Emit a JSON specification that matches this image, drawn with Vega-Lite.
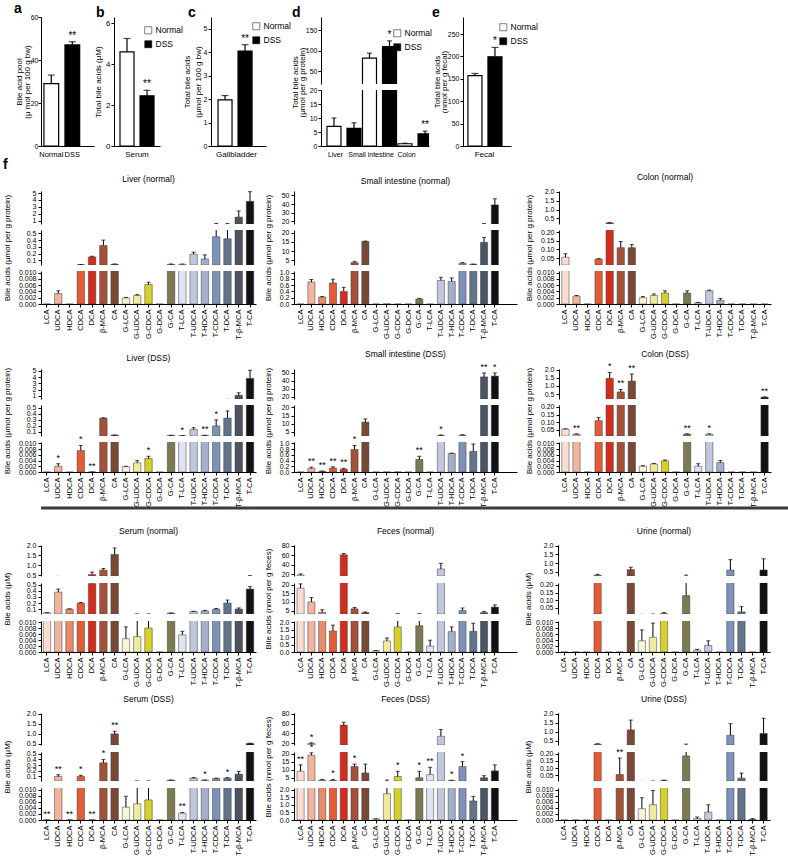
{
"$schema":"https://vega.github.io/schema/vega-lite/v6.json",
"padding":{"left":2,"top":2,"right":0,"bottom":0},
"config":{
 "font":"Liberation Sans",
 "view":{"stroke":null},
 "axis":{"grid":false,"domainColor":"#000","tickColor":"#000","labelColor":"#000","titleColor":"#000","labelFontSize":7.5,"titleFontSize":8,"titleFontWeight":"normal","tickSize":3,"labelPadding":2,"labelOverlap":false,"labelFlush":false,"titlePadding":4,"titleLineHeight":9},
 "axisY":{"labelFontSize":7},
 "range":{"category":["#7a4936","#e25d35","#d42c1d","#7b7a52","#d6cf2c","#a9a55a","#f7f5d5","#efeb9c","#e98a6a","#f9ddd0","#111111","#7d92b8","#62738c","#a2b0cd","#dfe4f0","#bfc8dd","#4b5462","#f2b49c","#a5513a"]},
 "bar":{"stroke":"#3a3a3a","strokeWidth":0.5},
 "rule":{"color":"#000"},
 "tick":{"color":"#000","thickness":1},
 "text":{"color":"#000","fontSize":9},
 "title":{"fontSize":8.5,"fontWeight":"normal","color":"#000","offset":6,"frame":"group"},
 "legend":{"labelFontSize":8.5}
},
"datasets":{
"t":[
{"p":"a","c":"Normal","g":"Normal","v":29,"h":33},
{"p":"a","c":"DSS","g":"DSS","v":47,"h":48.5,"s":"**"},
{"p":"b","c":"Serum","g":"Normal","v":4.6,"h":5.25},
{"p":"b","c":"Serum","g":"DSS","v":2.45,"h":2.72,"s":"**"},
{"p":"c","c":"Gallbladder","g":"Normal","v":1.97,"h":2.15},
{"p":"c","c":"Gallbladder","g":"DSS","v":4.05,"h":4.32,"s":"**"},
{"p":"d","c":"Liver","g":"Normal","v":7,"h":10},
{"p":"d","c":"Liver","g":"DSS","v":6.3,"h":8.3},
{"p":"d","c":"Small intestine","g":"Normal","v":82,"h":94},
{"p":"d","c":"Small intestine","g":"DSS","v":110,"h":124,"s":"*"},
{"p":"d","c":"Colon","g":"Normal","v":0.8,"h":1},
{"p":"d","c":"Colon","g":"DSS","v":4.3,"h":5.3,"s":"**"},
{"p":"e","c":"Fecal","g":"Normal","v":157,"h":162},
{"p":"e","c":"Fecal","g":"DSS","v":199,"h":220,"s":"*"}
],
"f":[
{"p":"LN","a":"LCA","v":0},{"p":"LN","a":"UDCA","v":0.0033,"h":0.0042},{"p":"LN","a":"HDCA","v":0},{"p":"LN","a":"CDCA","v":0.035,"h":0.037},{"p":"LN","a":"DCA","v":0.15,"h":0.16},{"p":"LN","a":"β-MCA","v":0.32,"h":0.4},{"p":"LN","a":"CA","v":0.04,"h":0.045},{"p":"LN","a":"G-LCA","v":0.0019,"h":0.0021},{"p":"LN","a":"G-UDCA","v":0.0027,"h":0.003},{"p":"LN","a":"G-CDCA","v":0.0062,"h":0.0069},{"p":"LN","a":"G-DCA","v":0},{"p":"LN","a":"G-CA","v":0.04,"h":0.044},{"p":"LN","a":"T-LCA","v":0.04,"h":0.044},{"p":"LN","a":"T-UDCA","v":0.19,"h":0.22},{"p":"LN","a":"T-HDCA","v":0.12,"h":0.18},{"p":"LN","a":"T-CDCA","v":0.45,"h":0.58},{"p":"LN","a":"T-DCA","v":0.42,"h":0.58},{"p":"LN","a":"T-β-MCA","v":1.5,"h":2.4},{"p":"LN","a":"T-CA","v":3.8,"h":5.2},
{"p":"LD","a":"LCA","v":0},{"p":"LD","a":"UDCA","v":0.002,"h":0.0029,"s":"*"},{"p":"LD","a":"HDCA","v":0},{"p":"LD","a":"CDCA","v":0.0075,"h":0.0093,"s":"*"},{"p":"LD","a":"DCA","v":0,"h":0,"s":"**"},{"p":"LD","a":"β-MCA","v":0.33,"h":0.335},{"p":"LD","a":"CA","v":0.045,"h":0.047},{"p":"LD","a":"G-LCA","v":0.0019,"h":0.002},{"p":"LD","a":"G-UDCA","v":0.0032,"h":0.004},{"p":"LD","a":"G-CDCA","v":0.0047,"h":0.0055,"s":"*"},{"p":"LD","a":"G-DCA","v":0},{"p":"LD","a":"G-CA","v":0.04,"h":0.042},{"p":"LD","a":"T-LCA","v":0.034,"h":0.036,"s":"*"},{"p":"LD","a":"T-UDCA","v":0.14,"h":0.17},{"p":"LD","a":"T-HDCA","v":0.04,"h":0.042,"s":"**"},{"p":"LD","a":"T-CDCA","v":0.2,"h":0.3,"s":"*"},{"p":"LD","a":"T-DCA","v":0.33,"h":0.45},{"p":"LD","a":"T-β-MCA","v":1.1,"h":1.5},{"p":"LD","a":"T-CA","v":3.8,"h":5.1},
{"p":"SN","a":"LCA","v":0},{"p":"SN","a":"UDCA","v":0.7,"h":0.78},{"p":"SN","a":"HDCA","v":0.22,"h":0.24},{"p":"SN","a":"CDCA","v":0.67,"h":0.79},{"p":"SN","a":"DCA","v":0.4,"h":0.53},{"p":"SN","a":"β-MCA","v":3.8,"h":4.5},{"p":"SN","a":"CA","v":15.3,"h":15.5},{"p":"SN","a":"G-LCA","v":0},{"p":"SN","a":"G-UDCA","v":0.01},{"p":"SN","a":"G-CDCA","v":0},{"p":"SN","a":"G-DCA","v":0},{"p":"SN","a":"G-CA","v":0.16,"h":0.18},{"p":"SN","a":"T-LCA","v":0},{"p":"SN","a":"T-UDCA","v":0.75,"h":0.85},{"p":"SN","a":"T-HDCA","v":0.72,"h":0.83},{"p":"SN","a":"T-CDCA","v":3.4,"h":3.8},{"p":"SN","a":"T-DCA","v":2.9,"h":3},{"p":"SN","a":"T-β-MCA","v":14.8,"h":17.5},{"p":"SN","a":"T-CA","v":39,"h":46},
{"p":"SD","a":"LCA","v":0},{"p":"SD","a":"UDCA","v":0.13,"h":0.17,"s":"**"},{"p":"SD","a":"HDCA","v":0.03,"h":0.03,"s":"**"},{"p":"SD","a":"CDCA","v":0.14,"h":0.18,"s":"**"},{"p":"SD","a":"DCA","v":0.1,"h":0.13,"s":"**"},{"p":"SD","a":"β-MCA","v":0.79,"h":0.93,"s":"*"},{"p":"SD","a":"CA","v":11,"h":13},{"p":"SD","a":"G-LCA","v":0},{"p":"SD","a":"G-UDCA","v":0.005},{"p":"SD","a":"G-CDCA","v":0.005},{"p":"SD","a":"G-DCA","v":0},{"p":"SD","a":"G-CA","v":0.44,"h":0.55,"s":"**"},{"p":"SD","a":"T-LCA","v":0},{"p":"SD","a":"T-UDCA","v":2.8,"h":3.2,"s":"*"},{"p":"SD","a":"T-HDCA","v":0.65,"h":0.66},{"p":"SD","a":"T-CDCA","v":3,"h":3.3},{"p":"SD","a":"T-DCA","v":0.72,"h":0.98},{"p":"SD","a":"T-β-MCA","v":45,"h":50,"s":"**"},{"p":"SD","a":"T-CA","v":46,"h":50,"s":"*"},
{"p":"CN","a":"LCA","v":0.055,"h":0.075},{"p":"CN","a":"UDCA","v":0.0025,"h":0.0027},{"p":"CN","a":"HDCA","v":0},{"p":"CN","a":"CDCA","v":0.044,"h":0.047},{"p":"CN","a":"DCA","v":0.25,"h":0.27},{"p":"CN","a":"β-MCA","v":0.11,"h":0.145},{"p":"CN","a":"CA","v":0.11,"h":0.128},{"p":"CN","a":"G-LCA","v":0.002,"h":0.0024},{"p":"CN","a":"G-UDCA","v":0.0027,"h":0.0032},{"p":"CN","a":"G-CDCA","v":0.0035,"h":0.0042},{"p":"CN","a":"G-DCA","v":0},{"p":"CN","a":"G-CA","v":0.0035,"h":0.0042},{"p":"CN","a":"T-LCA","v":0.0004,"h":0.0005},{"p":"CN","a":"T-UDCA","v":0.0042,"h":0.0044},{"p":"CN","a":"T-HDCA","v":0.0012,"h":0.0018},{"p":"CN","a":"T-CDCA","v":0},{"p":"CN","a":"T-DCA","v":0},{"p":"CN","a":"T-β-MCA","v":0},{"p":"CN","a":"T-CA","v":0},
{"p":"CD","a":"LCA","v":0.055,"h":0.057},{"p":"CD","a":"UDCA","v":0.022,"h":0.024,"s":"**"},{"p":"CD","a":"HDCA","v":0},{"p":"CD","a":"CDCA","v":0.11,"h":0.13},{"p":"CD","a":"DCA","v":1.47,"h":1.84,"s":"*"},{"p":"CD","a":"β-MCA","v":0.63,"h":0.78,"s":"**"},{"p":"CD","a":"CA","v":1.3,"h":1.74,"s":"**"},{"p":"CD","a":"G-LCA","v":0.002,"h":0.0022},{"p":"CD","a":"G-UDCA","v":0.0028,"h":0.003},{"p":"CD","a":"G-CDCA","v":0.0039,"h":0.0042},{"p":"CD","a":"G-DCA","v":0},{"p":"CD","a":"G-CA","v":0.022,"h":0.024,"s":"**"},{"p":"CD","a":"T-LCA","v":0.002,"h":0.0029},{"p":"CD","a":"T-UDCA","v":0.022,"h":0.024,"s":"*"},{"p":"CD","a":"T-HDCA","v":0.0033,"h":0.004},{"p":"CD","a":"T-CDCA","v":0},{"p":"CD","a":"T-DCA","v":0},{"p":"CD","a":"T-β-MCA","v":0},{"p":"CD","a":"T-CA","v":0.3,"h":0.32,"s":"**"},
{"p":"RN","a":"LCA","v":0.04,"h":0.045},{"p":"RN","a":"UDCA","v":0.38,"h":0.43},{"p":"RN","a":"HDCA","v":0.1,"h":0.105},{"p":"RN","a":"CDCA","v":0.2,"h":0.21},{"p":"RN","a":"DCA","v":0.52,"h":0.65},{"p":"RN","a":"β-MCA","v":0.75,"h":0.83},{"p":"RN","a":"CA","v":1.55,"h":1.88},{"p":"RN","a":"G-LCA","v":0.0045,"h":0.0085},{"p":"RN","a":"G-UDCA","v":0.0052,"h":0.022},{"p":"RN","a":"G-CDCA","v":0.0081,"h":0.022},{"p":"RN","a":"G-DCA","v":0},{"p":"RN","a":"G-CA","v":0.035,"h":0.037},{"p":"RN","a":"T-LCA","v":0.0058,"h":0.007},{"p":"RN","a":"T-UDCA","v":0.06,"h":0.065},{"p":"RN","a":"T-HDCA","v":0.07,"h":0.08},{"p":"RN","a":"T-CDCA","v":0.1,"h":0.11},{"p":"RN","a":"T-DCA","v":0.2,"h":0.25},{"p":"RN","a":"T-β-MCA","v":0.1,"h":0.12},{"p":"RN","a":"T-CA","v":0.43,"h":0.47},
{"p":"RD","a":"LCA","v":0,"h":0,"s":"**"},{"p":"RD","a":"UDCA","v":0.1,"h":0.13,"s":"**"},{"p":"RD","a":"HDCA","v":0,"h":0,"s":"**"},{"p":"RD","a":"CDCA","v":0.1,"h":0.12,"s":"*"},{"p":"RD","a":"DCA","v":0,"h":0,"s":"**"},{"p":"RD","a":"β-MCA","v":0.34,"h":0.4,"s":"*"},{"p":"RD","a":"CA","v":1,"h":1.13,"s":"**"},{"p":"RD","a":"G-LCA","v":0.0042,"h":0.0078},{"p":"RD","a":"G-UDCA","v":0.0053,"h":0.022},{"p":"RD","a":"G-CDCA","v":0.0066,"h":0.022},{"p":"RD","a":"G-DCA","v":0},{"p":"RD","a":"G-CA","v":0.035,"h":0.037},{"p":"RD","a":"T-LCA","v":0.0022,"h":0.0025,"s":"**"},{"p":"RD","a":"T-UDCA","v":0.07,"h":0.08},{"p":"RD","a":"T-HDCA","v":0.035,"h":0.038,"s":"*"},{"p":"RD","a":"T-CDCA","v":0.065,"h":0.07},{"p":"RD","a":"T-DCA","v":0.07,"h":0.08,"s":"*"},{"p":"RD","a":"T-β-MCA","v":0.14,"h":0.19},{"p":"RD","a":"T-CA","v":0.53,"h":0.54},
{"p":"FN","a":"LCA","v":18,"h":20.5},{"p":"FN","a":"UDCA","v":10,"h":12.5},{"p":"FN","a":"HDCA","v":4,"h":5.5},{"p":"FN","a":"CDCA","v":1.42,"h":1.82},{"p":"FN","a":"DCA","v":61,"h":64},{"p":"FN","a":"β-MCA","v":6,"h":6.8},{"p":"FN","a":"CA","v":3.8,"h":4.2},{"p":"FN","a":"G-LCA","v":0.08,"h":0.1},{"p":"FN","a":"G-UDCA","v":0.75,"h":0.95},{"p":"FN","a":"G-CDCA","v":1.7,"h":3.2},{"p":"FN","a":"G-DCA","v":0},{"p":"FN","a":"G-CA","v":1.78,"h":3.2},{"p":"FN","a":"T-LCA","v":0.4,"h":0.8},{"p":"FN","a":"T-UDCA","v":31,"h":43},{"p":"FN","a":"T-HDCA","v":1.38,"h":1.7},{"p":"FN","a":"T-CDCA","v":5,"h":6.5},{"p":"FN","a":"T-DCA","v":1.4,"h":1.95},{"p":"FN","a":"T-β-MCA","v":3.8,"h":4.5},{"p":"FN","a":"T-CA","v":7,"h":8.3},
{"p":"FD","a":"LCA","v":9,"h":13,"s":"**"},{"p":"FD","a":"UDCA","v":19,"h":20.5,"s":"*"},{"p":"FD","a":"HDCA","v":3.5,"h":4},{"p":"FD","a":"CDCA","v":3.3,"h":4,"s":"*"},{"p":"FD","a":"DCA","v":57,"h":63},{"p":"FD","a":"β-MCA","v":12,"h":13.5,"s":"*"},{"p":"FD","a":"CA","v":8,"h":13.5},{"p":"FD","a":"G-LCA","v":0.07,"h":0.08},{"p":"FD","a":"G-UDCA","v":1.72,"h":3.6},{"p":"FD","a":"G-CDCA","v":5.8,"h":9,"s":"*"},{"p":"FD","a":"G-DCA","v":0},{"p":"FD","a":"G-CA","v":5,"h":9,"s":"*"},{"p":"FD","a":"T-LCA","v":7,"h":11.5,"s":"**"},{"p":"FD","a":"T-UDCA","v":34,"h":48},{"p":"FD","a":"T-HDCA","v":3.2,"h":3.5,"s":"*"},{"p":"FD","a":"T-CDCA","v":12,"h":15,"s":"*"},{"p":"FD","a":"T-DCA","v":1.25,"h":1.55},{"p":"FD","a":"T-β-MCA","v":5,"h":6.3},{"p":"FD","a":"T-CA","v":9.3,"h":13},
{"p":"UN","a":"LCA","v":0},{"p":"UN","a":"UDCA","v":0},{"p":"UN","a":"HDCA","v":0},{"p":"UN","a":"CDCA","v":0.3,"h":0.35},{"p":"UN","a":"DCA","v":0},{"p":"UN","a":"β-MCA","v":0},{"p":"UN","a":"CA","v":0.62,"h":0.76},{"p":"UN","a":"G-LCA","v":0.0038,"h":0.0075},{"p":"UN","a":"G-UDCA","v":0.005,"h":0.0098},{"p":"UN","a":"G-CDCA","v":0.014,"h":0.019},{"p":"UN","a":"G-DCA","v":0},{"p":"UN","a":"G-CA","v":0.13,"h":0.3},{"p":"UN","a":"T-LCA","v":0.0006,"h":0.0009},{"p":"UN","a":"T-UDCA","v":0.0022,"h":0.0038},{"p":"UN","a":"T-HDCA","v":0},{"p":"UN","a":"T-CDCA","v":0.6,"h":1.2},{"p":"UN","a":"T-DCA","v":0.024,"h":0.058},{"p":"UN","a":"T-β-MCA","v":0},{"p":"UN","a":"T-CA","v":0.6,"h":1.25},
{"p":"UD","a":"LCA","v":0},{"p":"UD","a":"UDCA","v":0},{"p":"UD","a":"HDCA","v":0},{"p":"UD","a":"CDCA","v":0.3,"h":0.32},{"p":"UD","a":"DCA","v":0},{"p":"UD","a":"β-MCA","v":0.055,"h":0.17,"s":"**"},{"p":"UD","a":"CA","v":1.1,"h":1.65},{"p":"UD","a":"G-LCA","v":0.0037,"h":0.0073},{"p":"UD","a":"G-UDCA","v":0.005,"h":0.0097},{"p":"UD","a":"G-CDCA","v":0.013,"h":0.016},{"p":"UD","a":"G-DCA","v":0},{"p":"UD","a":"G-CA","v":0.185,"h":0.3},{"p":"UD","a":"T-LCA","v":0.0005,"h":0.001},{"p":"UD","a":"T-UDCA","v":0.0026,"h":0.005},{"p":"UD","a":"T-HDCA","v":0},{"p":"UD","a":"T-CDCA","v":0.8,"h":1.45},{"p":"UD","a":"T-DCA","v":0.03,"h":0.065},{"p":"UD","a":"T-β-MCA","v":0.0002,"h":0.0005},{"p":"UD","a":"T-CA","v":0.9,"h":1.75}
]
},
"data":{"name":"f"},
"spacing":0,
"bounds":"full",
"vconcat":[
{"data":{"name":"t"},"spacing":0,"resolve":{"scale":{"fill":"independent"},"legend":{"fill":"independent"}},
 "hconcat":[
 {"transform":[{"filter":"datum.p=='a'"}],"title":{"text":"a","anchor":"start","frame":"group","dx":-27,"fontSize":14,"fontWeight":"bold","baseline":"bottom","offset":-17},
  "width":53,"height":129,"resolve":{"axis":{"y":"independent"}},
  "encoding":{"x":{"field":"g","type":"nominal","sort":["Normal","DSS"],"scale":{"paddingInner":0.3,"paddingOuter":0.41,"align":0.17},"axis":{"title":null,"labelAngle":0,"tickSize":0,"labelPadding":4,"labelFontSize":7.5}},
   "y":{"field":"v","type":"quantitative","scale":{"domain":[0,60],"nice":false},"axis":{"orient":"left","values":[0,20,40,60],"labelFontSize":7,"labelPadding":0,"title":"(μ mol per 100 g bw)","titleX":-10}}},
  "layer":[
   {"mark":{"type":"bar","stroke":"#000","strokeWidth":1.2},"encoding":{"fill":{"field":"g","type":"nominal","scale":{"domain":["Normal","DSS"],"range":["#ffffff","#000000"]},"legend":null}}},
   {"mark":{"type":"rule","strokeWidth":1.2},"encoding":{"y":{"field":"v","type":"quantitative","axis":null},"y2":{"field":"h"}}},
   {"mark":{"type":"tick","size":7,"thickness":1.2},"encoding":{"y":{"field":"h","type":"quantitative","axis":null}}},
   {"transform":[{"filter":"datum.s"}],"mark":{"type":"text","baseline":"bottom","dy":-1,"fontSize":10},"encoding":{"y":{"field":"h","type":"quantitative","axis":{"orient":"left","labels":false,"ticks":false,"domain":false,"title":"Bile acid pool","titleX":-18}},"text":{"field":"s"}}}
  ]},
 {"transform":[{"filter":"datum.p=='b'"}],"title":{"text":"b","anchor":"start","frame":"group","dx":-18,"fontSize":14,"fontWeight":"bold","baseline":"bottom","offset":-17},
  "width":46,"height":129,
  "encoding":{"x":{"field":"c","type":"nominal","scale":{"paddingInner":0,"paddingOuter":0.176},"axis":{"title":null,"labelAngle":0,"tickSize":0,"labelPadding":4,"labelFontSize":8}},
   "xOffset":{"field":"g","type":"nominal","sort":["Normal","DSS"],"scale":{"paddingInner":0.3,"paddingOuter":0}},
   "y":{"field":"v","type":"quantitative","scale":{"domain":[0,6.3],"nice":false},"axis":{"values":[0,2,4,6],"labelFontSize":8,"labelPadding":1,"title":"Total bile acids (μM)","titleX":-12}}},
  "layer":[
   {"mark":{"type":"bar","stroke":"#000","strokeWidth":1.2},"encoding":{"fill":{"field":"g","type":"nominal","scale":{"domain":["Normal","DSS"],"range":["#ffffff","#000000"]},"legend":{"orient":"none","legendX":30,"legendY":9,"title":null,"symbolType":"square","symbolSize":50,"symbolStrokeColor":"#000","symbolStrokeWidth":1.2,"labelFontSize":8.5,"rowPadding":4,"labelOffset":3}}}},
   {"mark":{"type":"rule","strokeWidth":1.2},"encoding":{"y2":{"field":"h"}}},
   {"mark":{"type":"tick","size":7,"thickness":1.2},"encoding":{"y":{"field":"h","type":"quantitative"}}},
   {"transform":[{"filter":"datum.s"}],"mark":{"type":"text","baseline":"bottom","dy":-1,"fontSize":10},"encoding":{"y":{"field":"h","type":"quantitative"},"text":{"field":"s"}}}
  ]},
 {"transform":[{"filter":"datum.p=='c'"}],"title":{"text":"c","anchor":"start","frame":"group","dx":-23,"fontSize":14,"fontWeight":"bold","baseline":"bottom","offset":-17},
  "width":55,"height":129,"resolve":{"axis":{"y":"independent"}},
  "encoding":{"x":{"field":"c","type":"nominal","scale":{"paddingInner":0,"paddingOuter":0.243,"align":0.39},"axis":{"title":null,"labelAngle":0,"tickSize":0,"labelPadding":4,"labelFontSize":8}},
   "xOffset":{"field":"g","type":"nominal","sort":["Normal","DSS"],"scale":{"paddingInner":0.32,"paddingOuter":0}},
   "y":{"field":"v","type":"quantitative","scale":{"domain":[0,5.5],"nice":false},"axis":{"orient":"left","values":[0,1,2,3,4,5],"labelFontSize":7,"labelPadding":1,"title":"(μmol per 100 g bw)","titleX":-9}}},
  "layer":[
   {"mark":{"type":"bar","stroke":"#000","strokeWidth":1.2},"encoding":{"fill":{"field":"g","type":"nominal","scale":{"domain":["Normal","DSS"],"range":["#ffffff","#000000"]},"legend":{"orient":"none","legendX":41,"legendY":5,"title":null,"symbolType":"square","symbolSize":50,"symbolStrokeColor":"#000","symbolStrokeWidth":1.2,"labelFontSize":8.5,"rowPadding":4,"labelOffset":3}}}},
   {"mark":{"type":"rule","strokeWidth":1.2},"encoding":{"y":{"field":"v","type":"quantitative","axis":null},"y2":{"field":"h"}}},
   {"mark":{"type":"tick","size":7,"thickness":1.2},"encoding":{"y":{"field":"h","type":"quantitative","axis":null}}},
   {"transform":[{"filter":"datum.s"}],"mark":{"type":"text","baseline":"bottom","dy":-1,"fontSize":10},"encoding":{"y":{"field":"h","type":"quantitative","axis":{"orient":"left","labels":false,"ticks":false,"domain":false,"title":"Total bile acids","titleX":-20}},"text":{"field":"s"}}}
  ]},
 {"transform":[{"filter":"datum.p=='d'"}],"spacing":6,"bounds":"flush",
  "vconcat":[
   {"title":{"text":"d","anchor":"start","frame":"group","dx":-29,"fontSize":14,"fontWeight":"bold","baseline":"bottom","offset":-17},
    "width":108,"height":67,"resolve":{"axis":{"y":"independent"}},
    "encoding":{"x":{"field":"c","type":"nominal","sort":null,"scale":{"paddingInner":0.52,"paddingOuter":0.28,"align":0.3},"axis":null},
     "xOffset":{"field":"g","type":"nominal","sort":["Normal","DSS"],"scale":{"paddingInner":0.11,"paddingOuter":0}},
     "y":{"field":"v","type":"quantitative","scale":{"domain":[19,182],"nice":false,"zero":false},"axis":{"orient":"left","values":[50,100,150],"labelFontSize":7,"labelPadding":1,"title":"(μmol per g protein)","titleX":-15,"titleY":65}}},
    "layer":[
     {"mark":{"type":"bar","stroke":"#000","strokeWidth":1.2,"clip":true},"encoding":{"fill":{"field":"g","type":"nominal","scale":{"domain":["Normal","DSS"],"range":["#ffffff","#000000"]},"legend":{"orient":"none","legendX":72,"legendY":12,"title":null,"symbolType":"square","symbolSize":50,"symbolStrokeColor":"#000","symbolStrokeWidth":1.2,"labelFontSize":8.5,"rowPadding":4,"labelOffset":3}}}},
     {"mark":{"type":"rule","strokeWidth":1.2,"clip":true},"encoding":{"y":{"field":"v","type":"quantitative","axis":null},"y2":{"field":"h"}}},
     {"mark":{"type":"tick","size":5,"thickness":1.2,"clip":true},"encoding":{"y":{"field":"h","type":"quantitative","axis":null}}},
     {"transform":[{"filter":"datum.s&&datum.h>=19"}],"mark":{"type":"text","baseline":"bottom","dy":-1,"fontSize":10},"encoding":{"y":{"field":"h","type":"quantitative","axis":{"orient":"left","labels":false,"ticks":false,"domain":false,"title":"Total bile acids","titleX":-22,"titleY":65}},"text":{"field":"s"}}}
    ]},
   {"width":108,"height":56,
    "encoding":{"x":{"field":"c","type":"nominal","sort":null,"scale":{"paddingInner":0.52,"paddingOuter":0.28,"align":0.3},"axis":{"title":null,"labelAngle":0,"tickSize":0,"labelPadding":4,"labelFontSize":7}},
     "xOffset":{"field":"g","type":"nominal","sort":["Normal","DSS"],"scale":{"paddingInner":0.11,"paddingOuter":0}},
     "y":{"field":"v","type":"quantitative","scale":{"domain":[0,20],"nice":false},"axis":{"values":[0,5,10,15,20],"labelFontSize":7,"labelPadding":1,"title":null}}},
    "layer":[
     {"mark":{"type":"bar","stroke":"#000","strokeWidth":1.2,"clip":true},"encoding":{"fill":{"field":"g","type":"nominal","scale":{"domain":["Normal","DSS"],"range":["#ffffff","#000000"]},"legend":{"orient":"none","legendX":72,"legendY":12,"title":null,"symbolType":"square","symbolSize":50,"symbolStrokeColor":"#000","symbolStrokeWidth":1.2,"labelFontSize":8.5,"rowPadding":4,"labelOffset":3}}}},
     {"mark":{"type":"rule","strokeWidth":1.2,"clip":true},"encoding":{"y2":{"field":"h"}}},
     {"mark":{"type":"tick","size":5,"thickness":1.2,"clip":true},"encoding":{"y":{"field":"h","type":"quantitative"}}},
     {"transform":[{"filter":"datum.s&&datum.h<19"}],"mark":{"type":"text","baseline":"bottom","dy":-1,"fontSize":10},"encoding":{"y":{"field":"h","type":"quantitative"},"text":{"field":"s"}}}
    ]}
  ]},
 {"transform":[{"filter":"datum.p=='e'"}],"title":{"text":"e","anchor":"start","frame":"group","dx":-31,"fontSize":14,"fontWeight":"bold","baseline":"bottom","offset":-17},
  "width":48,"height":129,"resolve":{"axis":{"y":"independent"}},
  "encoding":{"x":{"field":"c","type":"nominal","scale":{"paddingInner":0,"paddingOuter":0.227,"align":0.33},"axis":{"title":null,"labelAngle":0,"tickSize":0,"labelPadding":4,"labelFontSize":8}},
   "xOffset":{"field":"g","type":"nominal","sort":["Normal","DSS"],"scale":{"paddingInner":0.167,"paddingOuter":0}},
   "y":{"field":"v","type":"quantitative","scale":{"domain":[0,288],"nice":false},"axis":{"orient":"left","values":[0,50,100,150,200,250],"labelFontSize":7,"labelPadding":1,"title":"(nmol per g fecal)","titleX":-15}}},
  "layer":[
   {"mark":{"type":"bar","stroke":"#000","strokeWidth":1.2},"encoding":{"fill":{"field":"g","type":"nominal","scale":{"domain":["Normal","DSS"],"range":["#ffffff","#000000"]},"legend":{"orient":"none","legendX":36,"legendY":6,"title":null,"symbolType":"square","symbolSize":50,"symbolStrokeColor":"#000","symbolStrokeWidth":1.2,"labelFontSize":8.5,"rowPadding":4,"labelOffset":3}}}},
   {"mark":{"type":"rule","strokeWidth":1.2},"encoding":{"y":{"field":"v","type":"quantitative","axis":null},"y2":{"field":"h"}}},
   {"mark":{"type":"tick","size":7,"thickness":1.2},"encoding":{"y":{"field":"h","type":"quantitative","axis":null}}},
   {"transform":[{"filter":"datum.s"}],"mark":{"type":"text","baseline":"bottom","dy":-1,"fontSize":10},"encoding":{"y":{"field":"h","type":"quantitative","axis":{"orient":"left","labels":false,"ticks":false,"domain":false,"title":"Total bile acids","titleX":-22}},"text":{"field":"s"}}}
  ]}
 ]},
{"spacing":9,"vconcat":[
{"title":{"text":"f","anchor":"start","frame":"bounds","fontSize":14,"fontWeight":"bold","offset":1},"spacing":7,
 "hconcat":[
  {"transform":[{"filter":"datum.p=='LN'"}],"spacing":6,"bounds":"flush","vconcat":[
   {"title":"Liver (normal)","width":215,"height":33,
    "encoding":{"x":{"field":"a","type":"nominal","sort":null,"scale":{"paddingInner":0.34,"paddingOuter":0.2},"axis":null},
     "y":{"field":"v","type":"quantitative","stack":null,"scale":{"domain":[0.5,5.3],"nice":false,"zero":false},"axis":{"values":[1,2,3,4,5],"format":"d","title":null}}},
    "layer":[
     {"mark":{"type":"bar","clip":true},"encoding":{"color":{"field":"a","type":"nominal","legend":null},"strokeOpacity":{"condition":{"test":"datum.v>0.5","value":1},"value":0}}},
     {"transform":[{"filter":"isValid(datum.h)"}],"mark":{"type":"rule","clip":true},"encoding":{"y2":{"field":"h"}}},
     {"transform":[{"filter":"isValid(datum.h)"}],"mark":{"type":"tick","clip":true,"size":4},"encoding":{"y":{"field":"h","type":"quantitative"}}}]},
   {"width":215,"height":35,
    "encoding":{"x":{"field":"a","type":"nominal","sort":null,"scale":{"paddingInner":0.34,"paddingOuter":0.2},"axis":null},
     "y":{"field":"v","type":"quantitative","stack":null,"scale":{"domain":[0.03,0.55],"nice":false,"zero":false},"axis":{"values":[0.1,0.2,0.3,0.4,0.5],"format":".1f","title":"Bile acids (μmol per g protein)","titleX":-30}}},
    "layer":[
     {"mark":{"type":"bar","clip":true},"encoding":{"color":{"field":"a","type":"nominal","legend":null},"strokeOpacity":{"condition":{"test":"datum.v>0.03","value":1},"value":0}}},
     {"transform":[{"filter":"isValid(datum.h)"}],"mark":{"type":"rule","clip":true},"encoding":{"y2":{"field":"h"}}},
     {"transform":[{"filter":"isValid(datum.h)"}],"mark":{"type":"tick","clip":true,"size":4},"encoding":{"y":{"field":"h","type":"quantitative"}}}]},
   {"width":215,"height":33,
    "encoding":{"x":{"field":"a","type":"nominal","sort":null,"scale":{"paddingInner":0.34,"paddingOuter":0.2},"axis":{"title":null,"labelAngle":-90}},
     "y":{"field":"v","type":"quantitative","stack":null,"scale":{"domain":[0,0.0105],"nice":false},"axis":{"values":[0,0.002,0.004,0.006,0.008,0.01],"format":".3f","title":null}}},
    "layer":[
     {"mark":{"type":"bar","clip":true},"encoding":{"color":{"field":"a","type":"nominal","legend":null}}},
     {"transform":[{"filter":"isValid(datum.h)"}],"mark":{"type":"rule","clip":true},"encoding":{"y2":{"field":"h"}}},
     {"transform":[{"filter":"isValid(datum.h)"}],"mark":{"type":"tick","clip":true,"size":4},"encoding":{"y":{"field":"h","type":"quantitative"}}}]}
  ]},
  {"transform":[{"filter":"datum.p=='SN'"}],"spacing":6,"bounds":"flush","vconcat":[
   {"title":"Small intestine (normal)","width":223,"height":33,
    "encoding":{"x":{"field":"a","type":"nominal","sort":null,"scale":{"paddingInner":0.34,"paddingOuter":1.2,"align":0.14},"axis":null},
     "y":{"field":"v","type":"quantitative","stack":null,"scale":{"domain":[17,55],"nice":false,"zero":false},"axis":{"values":[20,30,40,50],"format":"d","title":null}}},
    "layer":[
     {"mark":{"type":"bar","clip":true},"encoding":{"color":{"field":"a","type":"nominal","legend":null},"strokeOpacity":{"condition":{"test":"datum.v>17","value":1},"value":0}}},
     {"transform":[{"filter":"isValid(datum.h)"}],"mark":{"type":"rule","clip":true},"encoding":{"y2":{"field":"h"}}},
     {"transform":[{"filter":"isValid(datum.h)"}],"mark":{"type":"tick","clip":true,"size":4},"encoding":{"y":{"field":"h","type":"quantitative"}}}]},
   {"width":223,"height":35,
    "encoding":{"x":{"field":"a","type":"nominal","sort":null,"scale":{"paddingInner":0.34,"paddingOuter":1.2,"align":0.14},"axis":null},
     "y":{"field":"v","type":"quantitative","stack":null,"scale":{"domain":[2.5,21.5],"nice":false,"zero":false},"axis":{"values":[5,10,15,20],"format":"d","title":"Bile acids (μmol per g protein)","titleX":-22}}},
    "layer":[
     {"mark":{"type":"bar","clip":true},"encoding":{"color":{"field":"a","type":"nominal","legend":null},"strokeOpacity":{"condition":{"test":"datum.v>2.5","value":1},"value":0}}},
     {"transform":[{"filter":"isValid(datum.h)"}],"mark":{"type":"rule","clip":true},"encoding":{"y2":{"field":"h"}}},
     {"transform":[{"filter":"isValid(datum.h)"}],"mark":{"type":"tick","clip":true,"size":4},"encoding":{"y":{"field":"h","type":"quantitative"}}}]},
   {"width":223,"height":33,
    "encoding":{"x":{"field":"a","type":"nominal","sort":null,"scale":{"paddingInner":0.34,"paddingOuter":1.2,"align":0.14},"axis":{"title":null,"labelAngle":-90}},
     "y":{"field":"v","type":"quantitative","stack":null,"scale":{"domain":[0,1.05],"nice":false},"axis":{"values":[0,0.2,0.4,0.6,0.8,1],"format":".1f","title":null}}},
    "layer":[
     {"mark":{"type":"bar","clip":true},"encoding":{"color":{"field":"a","type":"nominal","legend":null}}},
     {"transform":[{"filter":"isValid(datum.h)"}],"mark":{"type":"rule","clip":true},"encoding":{"y2":{"field":"h"}}},
     {"transform":[{"filter":"isValid(datum.h)"}],"mark":{"type":"tick","clip":true,"size":4},"encoding":{"y":{"field":"h","type":"quantitative"}}}]}
  ]},
  {"transform":[{"filter":"datum.p=='CN'"}],"spacing":6,"bounds":"flush","vconcat":[
   {"title":"Colon (normal)","width":212,"height":33,
    "encoding":{"x":{"field":"a","type":"nominal","sort":null,"scale":{"paddingInner":0.34,"paddingOuter":0.25},"axis":null},
     "y":{"field":"v","type":"quantitative","stack":null,"scale":{"domain":[0.19,2.05],"nice":false,"zero":false},"axis":{"values":[0.5,1,1.5,2],"format":".1f","title":null}}},
    "layer":[
     {"mark":{"type":"bar","clip":true},"encoding":{"color":{"field":"a","type":"nominal","legend":null},"strokeOpacity":{"condition":{"test":"datum.v>0.19","value":1},"value":0}}},
     {"transform":[{"filter":"isValid(datum.h)"}],"mark":{"type":"rule","clip":true},"encoding":{"y2":{"field":"h"}}},
     {"transform":[{"filter":"isValid(datum.h)"}],"mark":{"type":"tick","clip":true,"size":4},"encoding":{"y":{"field":"h","type":"quantitative"}}}]},
   {"width":212,"height":35,
    "encoding":{"x":{"field":"a","type":"nominal","sort":null,"scale":{"paddingInner":0.34,"paddingOuter":0.25},"axis":null},
     "y":{"field":"v","type":"quantitative","stack":null,"scale":{"domain":[0.01,0.212],"nice":false,"zero":false},"axis":{"values":[0.05,0.1,0.15,0.2],"format":".2f","title":"Bile acids (μmol per g protein)","titleX":-26}}},
    "layer":[
     {"mark":{"type":"bar","clip":true},"encoding":{"color":{"field":"a","type":"nominal","legend":null},"strokeOpacity":{"condition":{"test":"datum.v>0.01","value":1},"value":0}}},
     {"transform":[{"filter":"isValid(datum.h)"}],"mark":{"type":"rule","clip":true},"encoding":{"y2":{"field":"h"}}},
     {"transform":[{"filter":"isValid(datum.h)"}],"mark":{"type":"tick","clip":true,"size":4},"encoding":{"y":{"field":"h","type":"quantitative"}}}]},
   {"width":212,"height":33,
    "encoding":{"x":{"field":"a","type":"nominal","sort":null,"scale":{"paddingInner":0.34,"paddingOuter":0.25},"axis":{"title":null,"labelAngle":-90}},
     "y":{"field":"v","type":"quantitative","stack":null,"scale":{"domain":[0,0.0105],"nice":false},"axis":{"values":[0,0.002,0.004,0.006,0.008,0.01],"format":".3f","title":null}}},
    "layer":[
     {"mark":{"type":"bar","clip":true},"encoding":{"color":{"field":"a","type":"nominal","legend":null}}},
     {"transform":[{"filter":"isValid(datum.h)"}],"mark":{"type":"rule","clip":true},"encoding":{"y2":{"field":"h"}}},
     {"transform":[{"filter":"isValid(datum.h)"}],"mark":{"type":"tick","clip":true,"size":4},"encoding":{"y":{"field":"h","type":"quantitative"}}}]}
  ]}
 ]},
{"spacing":-10,"vconcat":[
{"spacing":7,
 "hconcat":[
  {"transform":[{"filter":"datum.p=='LD'"}],"spacing":6,"bounds":"flush","vconcat":[
   {"title":{"text":"Liver (DSS)","offset":4},"width":215,"height":30,
    "encoding":{"x":{"field":"a","type":"nominal","sort":null,"scale":{"paddingInner":0.34,"paddingOuter":0.2},"axis":null},
     "y":{"field":"v","type":"quantitative","stack":null,"scale":{"domain":[0.5,5.3],"nice":false,"zero":false},"axis":{"values":[1,2,3,4,5],"format":"d","title":null}}},
    "layer":[
     {"mark":{"type":"bar","clip":true},"encoding":{"color":{"field":"a","type":"nominal","legend":null},"strokeOpacity":{"condition":{"test":"datum.v>0.5","value":1},"value":0}}},
     {"transform":[{"filter":"isValid(datum.h)"}],"mark":{"type":"rule","clip":true},"encoding":{"y2":{"field":"h"}}},
     {"transform":[{"filter":"isValid(datum.h)"}],"mark":{"type":"tick","clip":true,"size":4},"encoding":{"y":{"field":"h","type":"quantitative"}}},
     {"transform":[{"filter":"datum.s&&datum.h>=0.5&&datum.h<5.3"}],"mark":{"type":"text","baseline":"bottom","dy":-1},"encoding":{"y":{"field":"h","type":"quantitative"},"text":{"field":"s"}}}]},
   {"width":215,"height":31,
    "encoding":{"x":{"field":"a","type":"nominal","sort":null,"scale":{"paddingInner":0.34,"paddingOuter":0.2},"axis":null},
     "y":{"field":"v","type":"quantitative","stack":null,"scale":{"domain":[0.03,0.55],"nice":false,"zero":false},"axis":{"values":[0.1,0.2,0.3,0.4,0.5],"format":".1f","title":"Bile acids (μmol per g protein)","titleX":-30}}},
    "layer":[
     {"mark":{"type":"bar","clip":true},"encoding":{"color":{"field":"a","type":"nominal","legend":null},"strokeOpacity":{"condition":{"test":"datum.v>0.03","value":1},"value":0}}},
     {"transform":[{"filter":"isValid(datum.h)"}],"mark":{"type":"rule","clip":true},"encoding":{"y2":{"field":"h"}}},
     {"transform":[{"filter":"isValid(datum.h)"}],"mark":{"type":"tick","clip":true,"size":4},"encoding":{"y":{"field":"h","type":"quantitative"}}},
     {"transform":[{"filter":"datum.s&&datum.h>=0.03&&datum.h<0.55"}],"mark":{"type":"text","baseline":"bottom","dy":-1},"encoding":{"y":{"field":"h","type":"quantitative"},"text":{"field":"s"}}}]},
   {"width":215,"height":30,
    "encoding":{"x":{"field":"a","type":"nominal","sort":null,"scale":{"paddingInner":0.34,"paddingOuter":0.2},"axis":{"title":null,"labelAngle":-90}},
     "y":{"field":"v","type":"quantitative","stack":null,"scale":{"domain":[0,0.0105],"nice":false},"axis":{"values":[0,0.002,0.004,0.006,0.008,0.01],"format":".3f","title":null}}},
    "layer":[
     {"mark":{"type":"bar","clip":true},"encoding":{"color":{"field":"a","type":"nominal","legend":null}}},
     {"transform":[{"filter":"isValid(datum.h)"}],"mark":{"type":"rule","clip":true},"encoding":{"y2":{"field":"h"}}},
     {"transform":[{"filter":"isValid(datum.h)"}],"mark":{"type":"tick","clip":true,"size":4},"encoding":{"y":{"field":"h","type":"quantitative"}}},
     {"transform":[{"filter":"datum.s&&datum.h>=0&&datum.h<0.0105"}],"mark":{"type":"text","baseline":"bottom","dy":-1},"encoding":{"y":{"field":"h","type":"quantitative"},"text":{"field":"s"}}}]}
  ]},
  {"transform":[{"filter":"datum.p=='SD'"}],"spacing":6,"bounds":"flush","vconcat":[
   {"title":{"text":"Small intestine (DSS)","offset":4},"width":223,"height":30,
    "encoding":{"x":{"field":"a","type":"nominal","sort":null,"scale":{"paddingInner":0.34,"paddingOuter":1.2,"align":0.14},"axis":null},
     "y":{"field":"v","type":"quantitative","stack":null,"scale":{"domain":[17,55],"nice":false,"zero":false},"axis":{"values":[20,30,40,50],"format":"d","title":null}}},
    "layer":[
     {"mark":{"type":"bar","clip":true},"encoding":{"color":{"field":"a","type":"nominal","legend":null},"strokeOpacity":{"condition":{"test":"datum.v>17","value":1},"value":0}}},
     {"transform":[{"filter":"isValid(datum.h)"}],"mark":{"type":"rule","clip":true},"encoding":{"y2":{"field":"h"}}},
     {"transform":[{"filter":"isValid(datum.h)"}],"mark":{"type":"tick","clip":true,"size":4},"encoding":{"y":{"field":"h","type":"quantitative"}}},
     {"transform":[{"filter":"datum.s&&datum.h>=17&&datum.h<55"}],"mark":{"type":"text","baseline":"bottom","dy":-1},"encoding":{"y":{"field":"h","type":"quantitative"},"text":{"field":"s"}}}]},
   {"width":223,"height":31,
    "encoding":{"x":{"field":"a","type":"nominal","sort":null,"scale":{"paddingInner":0.34,"paddingOuter":1.2,"align":0.14},"axis":null},
     "y":{"field":"v","type":"quantitative","stack":null,"scale":{"domain":[2.5,21.5],"nice":false,"zero":false},"axis":{"values":[5,10,15,20],"format":"d","title":"Bile acids (μmol per g protein)","titleX":-22}}},
    "layer":[
     {"mark":{"type":"bar","clip":true},"encoding":{"color":{"field":"a","type":"nominal","legend":null},"strokeOpacity":{"condition":{"test":"datum.v>2.5","value":1},"value":0}}},
     {"transform":[{"filter":"isValid(datum.h)"}],"mark":{"type":"rule","clip":true},"encoding":{"y2":{"field":"h"}}},
     {"transform":[{"filter":"isValid(datum.h)"}],"mark":{"type":"tick","clip":true,"size":4},"encoding":{"y":{"field":"h","type":"quantitative"}}},
     {"transform":[{"filter":"datum.s&&datum.h>=2.5&&datum.h<21.5"}],"mark":{"type":"text","baseline":"bottom","dy":-1},"encoding":{"y":{"field":"h","type":"quantitative"},"text":{"field":"s"}}}]},
   {"width":223,"height":30,
    "encoding":{"x":{"field":"a","type":"nominal","sort":null,"scale":{"paddingInner":0.34,"paddingOuter":1.2,"align":0.14},"axis":{"title":null,"labelAngle":-90}},
     "y":{"field":"v","type":"quantitative","stack":null,"scale":{"domain":[0,1.05],"nice":false},"axis":{"values":[0,0.2,0.4,0.6,0.8,1],"format":".1f","title":null}}},
    "layer":[
     {"mark":{"type":"bar","clip":true},"encoding":{"color":{"field":"a","type":"nominal","legend":null}}},
     {"transform":[{"filter":"isValid(datum.h)"}],"mark":{"type":"rule","clip":true},"encoding":{"y2":{"field":"h"}}},
     {"transform":[{"filter":"isValid(datum.h)"}],"mark":{"type":"tick","clip":true,"size":4},"encoding":{"y":{"field":"h","type":"quantitative"}}},
     {"transform":[{"filter":"datum.s&&datum.h>=0&&datum.h<1.05"}],"mark":{"type":"text","baseline":"bottom","dy":-1},"encoding":{"y":{"field":"h","type":"quantitative"},"text":{"field":"s"}}}]}
  ]},
  {"transform":[{"filter":"datum.p=='CD'"}],"spacing":6,"bounds":"flush","vconcat":[
   {"title":{"text":"Colon (DSS)","offset":4},"width":212,"height":30,
    "encoding":{"x":{"field":"a","type":"nominal","sort":null,"scale":{"paddingInner":0.34,"paddingOuter":0.25},"axis":null},
     "y":{"field":"v","type":"quantitative","stack":null,"scale":{"domain":[0.19,2.05],"nice":false,"zero":false},"axis":{"values":[0.5,1,1.5,2],"format":".1f","title":null}}},
    "layer":[
     {"mark":{"type":"bar","clip":true},"encoding":{"color":{"field":"a","type":"nominal","legend":null},"strokeOpacity":{"condition":{"test":"datum.v>0.19","value":1},"value":0}}},
     {"transform":[{"filter":"isValid(datum.h)"}],"mark":{"type":"rule","clip":true},"encoding":{"y2":{"field":"h"}}},
     {"transform":[{"filter":"isValid(datum.h)"}],"mark":{"type":"tick","clip":true,"size":4},"encoding":{"y":{"field":"h","type":"quantitative"}}},
     {"transform":[{"filter":"datum.s&&datum.h>=0.19&&datum.h<2.05"}],"mark":{"type":"text","baseline":"bottom","dy":-1},"encoding":{"y":{"field":"h","type":"quantitative"},"text":{"field":"s"}}}]},
   {"width":212,"height":31,
    "encoding":{"x":{"field":"a","type":"nominal","sort":null,"scale":{"paddingInner":0.34,"paddingOuter":0.25},"axis":null},
     "y":{"field":"v","type":"quantitative","stack":null,"scale":{"domain":[0.01,0.212],"nice":false,"zero":false},"axis":{"values":[0.05,0.1,0.15,0.2],"format":".2f","title":"Bile acids (μmol per g protein)","titleX":-26}}},
    "layer":[
     {"mark":{"type":"bar","clip":true},"encoding":{"color":{"field":"a","type":"nominal","legend":null},"strokeOpacity":{"condition":{"test":"datum.v>0.01","value":1},"value":0}}},
     {"transform":[{"filter":"isValid(datum.h)"}],"mark":{"type":"rule","clip":true},"encoding":{"y2":{"field":"h"}}},
     {"transform":[{"filter":"isValid(datum.h)"}],"mark":{"type":"tick","clip":true,"size":4},"encoding":{"y":{"field":"h","type":"quantitative"}}},
     {"transform":[{"filter":"datum.s&&datum.h>=0.01&&datum.h<0.212"}],"mark":{"type":"text","baseline":"bottom","dy":-1},"encoding":{"y":{"field":"h","type":"quantitative"},"text":{"field":"s"}}}]},
   {"width":212,"height":30,
    "encoding":{"x":{"field":"a","type":"nominal","sort":null,"scale":{"paddingInner":0.34,"paddingOuter":0.25},"axis":{"title":null,"labelAngle":-90}},
     "y":{"field":"v","type":"quantitative","stack":null,"scale":{"domain":[0,0.0105],"nice":false},"axis":{"values":[0,0.002,0.004,0.006,0.008,0.01],"format":".3f","title":null}}},
    "layer":[
     {"mark":{"type":"bar","clip":true},"encoding":{"color":{"field":"a","type":"nominal","legend":null}}},
     {"transform":[{"filter":"isValid(datum.h)"}],"mark":{"type":"rule","clip":true},"encoding":{"y2":{"field":"h"}}},
     {"transform":[{"filter":"isValid(datum.h)"}],"mark":{"type":"tick","clip":true,"size":4},"encoding":{"y":{"field":"h","type":"quantitative"}}},
     {"transform":[{"filter":"datum.s&&datum.h>=0&&datum.h<0.0105"}],"mark":{"type":"text","baseline":"bottom","dy":-1},"encoding":{"y":{"field":"h","type":"quantitative"},"text":{"field":"s"}}}]}
  ]}
 ]},
{"spacing":7,"vconcat":[
{"data":{"values":[{}]},"width":786,"height":12,"mark":{"type":"rule","strokeWidth":3,"color":"#3c3c3c"},"encoding":{"y":{"datum":1,"type":"quantitative","scale":{"domain":[0,1]},"axis":null}}},
{"spacing":7,
 "hconcat":[
  {"transform":[{"filter":"datum.p=='RN'"}],"spacing":7,"bounds":"flush","vconcat":[
   {"title":"Serum (normal)","width":215,"height":31,
    "encoding":{"x":{"field":"a","type":"nominal","sort":null,"scale":{"paddingInner":0.34,"paddingOuter":0.2},"axis":null},
     "y":{"field":"v","type":"quantitative","stack":null,"scale":{"domain":[0.45,2.03],"nice":false,"zero":false},"axis":{"values":[0.5,1,1.5,2],"format":".1f","title":null}}},
    "layer":[
     {"mark":{"type":"bar","clip":true},"encoding":{"color":{"field":"a","type":"nominal","legend":null},"strokeOpacity":{"condition":{"test":"datum.v>0.45","value":1},"value":0}}},
     {"transform":[{"filter":"isValid(datum.h)"}],"mark":{"type":"rule","clip":true},"encoding":{"y2":{"field":"h"}}},
     {"transform":[{"filter":"isValid(datum.h)"}],"mark":{"type":"tick","clip":true,"size":4},"encoding":{"y":{"field":"h","type":"quantitative"}}}]},
   {"width":215,"height":31,
    "encoding":{"x":{"field":"a","type":"nominal","sort":null,"scale":{"paddingInner":0.34,"paddingOuter":0.2},"axis":null},
     "y":{"field":"v","type":"quantitative","stack":null,"scale":{"domain":[0.02,0.53],"nice":false,"zero":false},"axis":{"values":[0.1,0.2,0.3,0.4,0.5],"format":".1f","title":"Bile acids (μM)","titleX":-30}}},
    "layer":[
     {"mark":{"type":"bar","clip":true},"encoding":{"color":{"field":"a","type":"nominal","legend":null},"strokeOpacity":{"condition":{"test":"datum.v>0.02","value":1},"value":0}}},
     {"transform":[{"filter":"isValid(datum.h)"}],"mark":{"type":"rule","clip":true},"encoding":{"y2":{"field":"h"}}},
     {"transform":[{"filter":"isValid(datum.h)"}],"mark":{"type":"tick","clip":true,"size":4},"encoding":{"y":{"field":"h","type":"quantitative"}}}]},
   {"width":215,"height":31,
    "encoding":{"x":{"field":"a","type":"nominal","sort":null,"scale":{"paddingInner":0.34,"paddingOuter":0.2},"axis":{"title":null,"labelAngle":-90}},
     "y":{"field":"v","type":"quantitative","stack":null,"scale":{"domain":[0,0.0105],"nice":false},"axis":{"values":[0,0.002,0.004,0.006,0.008,0.01],"format":".3f","title":null}}},
    "layer":[
     {"mark":{"type":"bar","clip":true},"encoding":{"color":{"field":"a","type":"nominal","legend":null}}},
     {"transform":[{"filter":"isValid(datum.h)"}],"mark":{"type":"rule","clip":true},"encoding":{"y2":{"field":"h"}}},
     {"transform":[{"filter":"isValid(datum.h)"}],"mark":{"type":"tick","clip":true,"size":4},"encoding":{"y":{"field":"h","type":"quantitative"}}}]}
  ]},
  {"transform":[{"filter":"datum.p=='FN'"}],"spacing":7,"bounds":"flush","vconcat":[
   {"title":"Feces (normal)","width":223,"height":31,
    "encoding":{"x":{"field":"a","type":"nominal","sort":null,"scale":{"paddingInner":0.34,"paddingOuter":1.2,"align":0.14},"axis":null},
     "y":{"field":"v","type":"quantitative","stack":null,"scale":{"domain":[16,82],"nice":false,"zero":false},"axis":{"values":[20,40,60,80],"format":"d","title":null}}},
    "layer":[
     {"mark":{"type":"bar","clip":true},"encoding":{"color":{"field":"a","type":"nominal","legend":null},"strokeOpacity":{"condition":{"test":"datum.v>16","value":1},"value":0}}},
     {"transform":[{"filter":"isValid(datum.h)"}],"mark":{"type":"rule","clip":true},"encoding":{"y2":{"field":"h"}}},
     {"transform":[{"filter":"isValid(datum.h)"}],"mark":{"type":"tick","clip":true,"size":4},"encoding":{"y":{"field":"h","type":"quantitative"}}}]},
   {"width":223,"height":31,
    "encoding":{"x":{"field":"a","type":"nominal","sort":null,"scale":{"paddingInner":0.34,"paddingOuter":1.2,"align":0.14},"axis":null},
     "y":{"field":"v","type":"quantitative","stack":null,"scale":{"domain":[3,21],"nice":false,"zero":false},"axis":{"values":[5,10,15,20],"format":"d","title":"Bile acids (nmol per g feces)","titleX":-22}}},
    "layer":[
     {"mark":{"type":"bar","clip":true},"encoding":{"color":{"field":"a","type":"nominal","legend":null},"strokeOpacity":{"condition":{"test":"datum.v>3","value":1},"value":0}}},
     {"transform":[{"filter":"isValid(datum.h)"}],"mark":{"type":"rule","clip":true},"encoding":{"y2":{"field":"h"}}},
     {"transform":[{"filter":"isValid(datum.h)"}],"mark":{"type":"tick","clip":true,"size":4},"encoding":{"y":{"field":"h","type":"quantitative"}}}]},
   {"width":223,"height":31,
    "encoding":{"x":{"field":"a","type":"nominal","sort":null,"scale":{"paddingInner":0.34,"paddingOuter":1.2,"align":0.14},"axis":{"title":null,"labelAngle":-90}},
     "y":{"field":"v","type":"quantitative","stack":null,"scale":{"domain":[0,2.1],"nice":false},"axis":{"values":[0,0.5,1,1.5,2],"format":".1f","title":null}}},
    "layer":[
     {"mark":{"type":"bar","clip":true},"encoding":{"color":{"field":"a","type":"nominal","legend":null}}},
     {"transform":[{"filter":"isValid(datum.h)"}],"mark":{"type":"rule","clip":true},"encoding":{"y2":{"field":"h"}}},
     {"transform":[{"filter":"isValid(datum.h)"}],"mark":{"type":"tick","clip":true,"size":4},"encoding":{"y":{"field":"h","type":"quantitative"}}}]}
  ]},
  {"transform":[{"filter":"datum.p=='UN'"}],"spacing":7,"bounds":"flush","vconcat":[
   {"title":"Urine (normal)","width":212,"height":31,
    "encoding":{"x":{"field":"a","type":"nominal","sort":null,"scale":{"paddingInner":0.34,"paddingOuter":0.25},"axis":null},
     "y":{"field":"v","type":"quantitative","stack":null,"scale":{"domain":[0.25,2.05],"nice":false,"zero":false},"axis":{"values":[0.5,1,1.5,2],"format":".1f","title":null}}},
    "layer":[
     {"mark":{"type":"bar","clip":true},"encoding":{"color":{"field":"a","type":"nominal","legend":null},"strokeOpacity":{"condition":{"test":"datum.v>0.25","value":1},"value":0}}},
     {"transform":[{"filter":"isValid(datum.h)"}],"mark":{"type":"rule","clip":true},"encoding":{"y2":{"field":"h"}}},
     {"transform":[{"filter":"isValid(datum.h)"}],"mark":{"type":"tick","clip":true,"size":4},"encoding":{"y":{"field":"h","type":"quantitative"}}}]},
   {"width":212,"height":31,
    "encoding":{"x":{"field":"a","type":"nominal","sort":null,"scale":{"paddingInner":0.34,"paddingOuter":0.25},"axis":null},
     "y":{"field":"v","type":"quantitative","stack":null,"scale":{"domain":[0.01,0.212],"nice":false,"zero":false},"axis":{"values":[0.05,0.1,0.15,0.2],"format":".2f","title":"Bile acids (μM)","titleX":-26}}},
    "layer":[
     {"mark":{"type":"bar","clip":true},"encoding":{"color":{"field":"a","type":"nominal","legend":null},"strokeOpacity":{"condition":{"test":"datum.v>0.01","value":1},"value":0}}},
     {"transform":[{"filter":"isValid(datum.h)"}],"mark":{"type":"rule","clip":true},"encoding":{"y2":{"field":"h"}}},
     {"transform":[{"filter":"isValid(datum.h)"}],"mark":{"type":"tick","clip":true,"size":4},"encoding":{"y":{"field":"h","type":"quantitative"}}}]},
   {"width":212,"height":31,
    "encoding":{"x":{"field":"a","type":"nominal","sort":null,"scale":{"paddingInner":0.34,"paddingOuter":0.25},"axis":{"title":null,"labelAngle":-90}},
     "y":{"field":"v","type":"quantitative","stack":null,"scale":{"domain":[0,0.0105],"nice":false},"axis":{"values":[0,0.002,0.004,0.006,0.008,0.01],"format":".3f","title":null}}},
    "layer":[
     {"mark":{"type":"bar","clip":true},"encoding":{"color":{"field":"a","type":"nominal","legend":null}}},
     {"transform":[{"filter":"isValid(datum.h)"}],"mark":{"type":"rule","clip":true},"encoding":{"y2":{"field":"h"}}},
     {"transform":[{"filter":"isValid(datum.h)"}],"mark":{"type":"tick","clip":true,"size":4},"encoding":{"y":{"field":"h","type":"quantitative"}}}]}
  ]}
 ]},
{"spacing":7,
 "hconcat":[
  {"transform":[{"filter":"datum.p=='RD'"}],"spacing":7,"bounds":"flush","vconcat":[
   {"title":"Serum (DSS)","width":215,"height":32,
    "encoding":{"x":{"field":"a","type":"nominal","sort":null,"scale":{"paddingInner":0.34,"paddingOuter":0.2},"axis":null},
     "y":{"field":"v","type":"quantitative","stack":null,"scale":{"domain":[0.45,2.03],"nice":false,"zero":false},"axis":{"values":[0.5,1,1.5,2],"format":".1f","title":null}}},
    "layer":[
     {"mark":{"type":"bar","clip":true},"encoding":{"color":{"field":"a","type":"nominal","legend":null},"strokeOpacity":{"condition":{"test":"datum.v>0.45","value":1},"value":0}}},
     {"transform":[{"filter":"isValid(datum.h)"}],"mark":{"type":"rule","clip":true},"encoding":{"y2":{"field":"h"}}},
     {"transform":[{"filter":"isValid(datum.h)"}],"mark":{"type":"tick","clip":true,"size":4},"encoding":{"y":{"field":"h","type":"quantitative"}}},
     {"transform":[{"filter":"datum.s&&datum.h>=0.45&&datum.h<2.03"}],"mark":{"type":"text","baseline":"bottom","dy":-1},"encoding":{"y":{"field":"h","type":"quantitative"},"text":{"field":"s"}}}]},
   {"width":215,"height":29,
    "encoding":{"x":{"field":"a","type":"nominal","sort":null,"scale":{"paddingInner":0.34,"paddingOuter":0.2},"axis":null},
     "y":{"field":"v","type":"quantitative","stack":null,"scale":{"domain":[0.02,0.53],"nice":false,"zero":false},"axis":{"values":[0.1,0.2,0.3,0.4,0.5],"format":".1f","title":"Bile acids (μM)","titleX":-30}}},
    "layer":[
     {"mark":{"type":"bar","clip":true},"encoding":{"color":{"field":"a","type":"nominal","legend":null},"strokeOpacity":{"condition":{"test":"datum.v>0.02","value":1},"value":0}}},
     {"transform":[{"filter":"isValid(datum.h)"}],"mark":{"type":"rule","clip":true},"encoding":{"y2":{"field":"h"}}},
     {"transform":[{"filter":"isValid(datum.h)"}],"mark":{"type":"tick","clip":true,"size":4},"encoding":{"y":{"field":"h","type":"quantitative"}}},
     {"transform":[{"filter":"datum.s&&datum.h>=0.02&&datum.h<0.53"}],"mark":{"type":"text","baseline":"bottom","dy":-1},"encoding":{"y":{"field":"h","type":"quantitative"},"text":{"field":"s"}}}]},
   {"width":215,"height":32,
    "encoding":{"x":{"field":"a","type":"nominal","sort":null,"scale":{"paddingInner":0.34,"paddingOuter":0.2},"axis":{"title":null,"labelAngle":-90}},
     "y":{"field":"v","type":"quantitative","stack":null,"scale":{"domain":[0,0.0105],"nice":false},"axis":{"values":[0,0.002,0.004,0.006,0.008,0.01],"format":".3f","title":null}}},
    "layer":[
     {"mark":{"type":"bar","clip":true},"encoding":{"color":{"field":"a","type":"nominal","legend":null}}},
     {"transform":[{"filter":"isValid(datum.h)"}],"mark":{"type":"rule","clip":true},"encoding":{"y2":{"field":"h"}}},
     {"transform":[{"filter":"isValid(datum.h)"}],"mark":{"type":"tick","clip":true,"size":4},"encoding":{"y":{"field":"h","type":"quantitative"}}},
     {"transform":[{"filter":"datum.s&&datum.h>=0&&datum.h<0.0105"}],"mark":{"type":"text","baseline":"bottom","dy":-1},"encoding":{"y":{"field":"h","type":"quantitative"},"text":{"field":"s"}}}]}
  ]},
  {"transform":[{"filter":"datum.p=='FD'"}],"spacing":7,"bounds":"flush","vconcat":[
   {"title":"Feces (DSS)","width":223,"height":32,
    "encoding":{"x":{"field":"a","type":"nominal","sort":null,"scale":{"paddingInner":0.34,"paddingOuter":1.2,"align":0.14},"axis":null},
     "y":{"field":"v","type":"quantitative","stack":null,"scale":{"domain":[16,82],"nice":false,"zero":false},"axis":{"values":[20,40,60,80],"format":"d","title":null}}},
    "layer":[
     {"mark":{"type":"bar","clip":true},"encoding":{"color":{"field":"a","type":"nominal","legend":null},"strokeOpacity":{"condition":{"test":"datum.v>16","value":1},"value":0}}},
     {"transform":[{"filter":"isValid(datum.h)"}],"mark":{"type":"rule","clip":true},"encoding":{"y2":{"field":"h"}}},
     {"transform":[{"filter":"isValid(datum.h)"}],"mark":{"type":"tick","clip":true,"size":4},"encoding":{"y":{"field":"h","type":"quantitative"}}},
     {"transform":[{"filter":"datum.s&&datum.h>=16&&datum.h<82"}],"mark":{"type":"text","baseline":"bottom","dy":-1},"encoding":{"y":{"field":"h","type":"quantitative"},"text":{"field":"s"}}}]},
   {"width":223,"height":29,
    "encoding":{"x":{"field":"a","type":"nominal","sort":null,"scale":{"paddingInner":0.34,"paddingOuter":1.2,"align":0.14},"axis":null},
     "y":{"field":"v","type":"quantitative","stack":null,"scale":{"domain":[3,21],"nice":false,"zero":false},"axis":{"values":[5,10,15,20],"format":"d","title":"Bile acids (nmol per g feces)","titleX":-22}}},
    "layer":[
     {"mark":{"type":"bar","clip":true},"encoding":{"color":{"field":"a","type":"nominal","legend":null},"strokeOpacity":{"condition":{"test":"datum.v>3","value":1},"value":0}}},
     {"transform":[{"filter":"isValid(datum.h)"}],"mark":{"type":"rule","clip":true},"encoding":{"y2":{"field":"h"}}},
     {"transform":[{"filter":"isValid(datum.h)"}],"mark":{"type":"tick","clip":true,"size":4},"encoding":{"y":{"field":"h","type":"quantitative"}}},
     {"transform":[{"filter":"datum.s&&datum.h>=3&&datum.h<21"}],"mark":{"type":"text","baseline":"bottom","dy":-1},"encoding":{"y":{"field":"h","type":"quantitative"},"text":{"field":"s"}}}]},
   {"width":223,"height":32,
    "encoding":{"x":{"field":"a","type":"nominal","sort":null,"scale":{"paddingInner":0.34,"paddingOuter":1.2,"align":0.14},"axis":{"title":null,"labelAngle":-90}},
     "y":{"field":"v","type":"quantitative","stack":null,"scale":{"domain":[0,2.1],"nice":false},"axis":{"values":[0,0.5,1,1.5,2],"format":".1f","title":null}}},
    "layer":[
     {"mark":{"type":"bar","clip":true},"encoding":{"color":{"field":"a","type":"nominal","legend":null}}},
     {"transform":[{"filter":"isValid(datum.h)"}],"mark":{"type":"rule","clip":true},"encoding":{"y2":{"field":"h"}}},
     {"transform":[{"filter":"isValid(datum.h)"}],"mark":{"type":"tick","clip":true,"size":4},"encoding":{"y":{"field":"h","type":"quantitative"}}},
     {"transform":[{"filter":"datum.s&&datum.h>=0&&datum.h<2.1"}],"mark":{"type":"text","baseline":"bottom","dy":-1},"encoding":{"y":{"field":"h","type":"quantitative"},"text":{"field":"s"}}}]}
  ]},
  {"transform":[{"filter":"datum.p=='UD'"}],"spacing":7,"bounds":"flush","vconcat":[
   {"title":"Urine (DSS)","width":212,"height":32,
    "encoding":{"x":{"field":"a","type":"nominal","sort":null,"scale":{"paddingInner":0.34,"paddingOuter":0.25},"axis":null},
     "y":{"field":"v","type":"quantitative","stack":null,"scale":{"domain":[0.25,2.05],"nice":false,"zero":false},"axis":{"values":[0.5,1,1.5,2],"format":".1f","title":null}}},
    "layer":[
     {"mark":{"type":"bar","clip":true},"encoding":{"color":{"field":"a","type":"nominal","legend":null},"strokeOpacity":{"condition":{"test":"datum.v>0.25","value":1},"value":0}}},
     {"transform":[{"filter":"isValid(datum.h)"}],"mark":{"type":"rule","clip":true},"encoding":{"y2":{"field":"h"}}},
     {"transform":[{"filter":"isValid(datum.h)"}],"mark":{"type":"tick","clip":true,"size":4},"encoding":{"y":{"field":"h","type":"quantitative"}}},
     {"transform":[{"filter":"datum.s&&datum.h>=0.25&&datum.h<2.05"}],"mark":{"type":"text","baseline":"bottom","dy":-1},"encoding":{"y":{"field":"h","type":"quantitative"},"text":{"field":"s"}}}]},
   {"width":212,"height":29,
    "encoding":{"x":{"field":"a","type":"nominal","sort":null,"scale":{"paddingInner":0.34,"paddingOuter":0.25},"axis":null},
     "y":{"field":"v","type":"quantitative","stack":null,"scale":{"domain":[0.01,0.212],"nice":false,"zero":false},"axis":{"values":[0.05,0.1,0.15,0.2],"format":".2f","title":"Bile acids (μM)","titleX":-26}}},
    "layer":[
     {"mark":{"type":"bar","clip":true},"encoding":{"color":{"field":"a","type":"nominal","legend":null},"strokeOpacity":{"condition":{"test":"datum.v>0.01","value":1},"value":0}}},
     {"transform":[{"filter":"isValid(datum.h)"}],"mark":{"type":"rule","clip":true},"encoding":{"y2":{"field":"h"}}},
     {"transform":[{"filter":"isValid(datum.h)"}],"mark":{"type":"tick","clip":true,"size":4},"encoding":{"y":{"field":"h","type":"quantitative"}}},
     {"transform":[{"filter":"datum.s&&datum.h>=0.01&&datum.h<0.212"}],"mark":{"type":"text","baseline":"bottom","dy":-1},"encoding":{"y":{"field":"h","type":"quantitative"},"text":{"field":"s"}}}]},
   {"width":212,"height":32,
    "encoding":{"x":{"field":"a","type":"nominal","sort":null,"scale":{"paddingInner":0.34,"paddingOuter":0.25},"axis":{"title":null,"labelAngle":-90}},
     "y":{"field":"v","type":"quantitative","stack":null,"scale":{"domain":[0,0.0105],"nice":false},"axis":{"values":[0,0.002,0.004,0.006,0.008,0.01],"format":".3f","title":null}}},
    "layer":[
     {"mark":{"type":"bar","clip":true},"encoding":{"color":{"field":"a","type":"nominal","legend":null}}},
     {"transform":[{"filter":"isValid(datum.h)"}],"mark":{"type":"rule","clip":true},"encoding":{"y2":{"field":"h"}}},
     {"transform":[{"filter":"isValid(datum.h)"}],"mark":{"type":"tick","clip":true,"size":4},"encoding":{"y":{"field":"h","type":"quantitative"}}},
     {"transform":[{"filter":"datum.s&&datum.h>=0&&datum.h<0.0105"}],"mark":{"type":"text","baseline":"bottom","dy":-1},"encoding":{"y":{"field":"h","type":"quantitative"},"text":{"field":"s"}}}]}
  ]}
 ]}
]}
]}
]}
]
}
